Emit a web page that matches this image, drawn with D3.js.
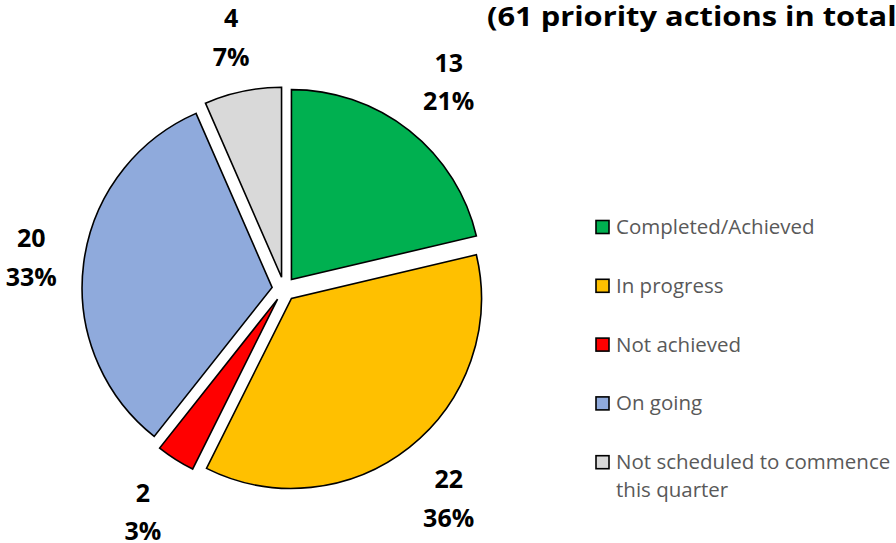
<!DOCTYPE html>
<html>
<head>
<meta charset="utf-8">
<script src="https://cdn.jsdelivr.net/npm/d3@7"></script>
<style>
  html, body { margin: 0; padding: 0; background: #fff; overflow: hidden; }
  svg { display: block; }
</style>
</head>
<body>
<svg id="chart" width="896" height="543"></svg>
<script>
// ---- data ----
const categories = ["Completed/Achieved", "In progress", "Not achieved", "On going", "Not scheduled to commence this quarter"];
const legendLines = [["Completed/Achieved"], ["In progress"], ["Not achieved"], ["On going"], ["Not scheduled to commence", "this quarter"]];
const values = [13, 22, 2, 20, 4];
const percentLabels = ["21%", "36%", "3%", "33%", "7%"];
const colors = ["#00B050", "#FFC000", "#FF0000", "#8FAADC", "#D9D9D9"];
const titleText = "(61 priority actions in total)";

// ---- layout ----
const W = 896, H = 543;
const cx = 284, cy = 289, R = 190, explode = 12;
const svg = d3.select("#chart");

const pie = d3.pie().sort(null).value(d => d.v).startAngle(0).endAngle(2 * Math.PI);
const arcs = pie(values.map((v, i) => ({ v, i })));
const arcGen = d3.arc().innerRadius(0).outerRadius(R);

const g = svg.append("g").attr("transform", `translate(${cx},${cy})`);

g.selectAll("path.slice")
  .data(arcs)
  .join("path")
  .attr("class", "slice")
  .attr("d", arcGen)
  .attr("fill", d => colors[d.data.i])
  .attr("stroke", "#000")
  .attr("stroke-width", 1.6)
  .attr("stroke-linejoin", "miter")
  .attr("transform", d => {
    const a = (d.startAngle + d.endAngle) / 2;
    return `translate(${explode * Math.sin(a)},${-explode * Math.cos(a)})`;
  });

// ---- data labels (outside end) ----
const labelFont = 25, lineGap = 38.5;
const outR = R + explode + 27;
const lg = g.append("g")
  .attr("font-family", "'Open Sans', 'Liberation Sans', sans-serif")
  .attr("font-weight", "bold")
  .attr("font-size", labelFont)
  .attr("fill", "#000")
  .attr("text-anchor", "middle");

arcs.forEach(d => {
  const i = d.data.i;
  const a = (d.startAngle + d.endAngle) / 2;
  const ux = Math.sin(a), uy = -Math.cos(a);
  const t = lg.append("g");
  const t1 = t.append("text").text(String(values[i]));
  const t2 = t.append("text").text(percentLabels[i]);
  const w = Math.max(t1.node().getComputedTextLength(), t2.node().getComputedTextLength());
  const hw = w / 2, hh = 28.5;
  const dist = Math.min(Math.abs(ux) > 1e-6 ? hw / Math.abs(ux) : 1e9, Math.abs(uy) > 1e-6 ? hh / Math.abs(uy) : 1e9);
  const px = (outR + dist) * ux;
  const py = (outR + dist) * uy + 1;
  t1.attr("x", px).attr("y", py - 10);
  t2.attr("x", px).attr("y", py - 10 + lineGap);
});

// ---- title (runs past the right edge, as in the reference) ----
svg.append("text")
  .attr("x", 487)
  .attr("y", 26)
  .attr("font-family", "'Open Sans', 'Liberation Sans', sans-serif")
  .attr("font-weight", "bold")
  .attr("font-size", 26)
  .attr("fill", "#000")
  .attr("textLength", 420)
  .attr("lengthAdjust", "spacingAndGlyphs")
  .text(titleText);

// ---- legend ----
const leg = svg.append("g");
const legY0 = 227, legStep = 58.8, sq = 13;
const legFont = 20.5;
legendLines.forEach((lines, i) => {
  const y = legY0 + i * legStep;
  leg.append("rect")
    .attr("x", 596).attr("y", y - sq / 2)
    .attr("width", sq).attr("height", sq)
    .attr("fill", colors[i])
    .attr("stroke", "#000").attr("stroke-width", 1.6);
  lines.forEach((ln, j) => {
    leg.append("text")
      .attr("x", 616).attr("y", y + 7 + j * 28)
      .attr("font-family", "'Open Sans', 'Liberation Sans', sans-serif")
      .attr("font-size", legFont)
      .attr("fill", "#595959")
      .text(ln);
  });
});
</script>
</body>
</html>
